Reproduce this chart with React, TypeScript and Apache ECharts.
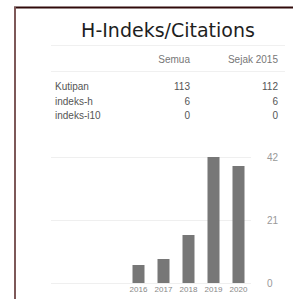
import React, { useEffect, useRef } from "react";
import * as echarts from "echarts";

const titleText = "H-Indeks/Citations";
const tableHeaders = ["Semua", "Sejak 2015"];
const rowLabels = ["Kutipan", "indeks-h", "indeks-i10"];
const allValues = [113, 6, 0];
const since2015Values = [112, 6, 0];

const years = ["2013", "2014", "2015", "2016", "2017", "2018", "2019", "2020"];
const citations = [0, 0, 0, 6, 8, 16, 42, 39];
const yMax = 42;
const yInterval = 21;

export default function App() {
  const ref = useRef<HTMLDivElement>(null);
  useEffect(() => {
    if (!ref.current) return;
    const chart = echarts.init(ref.current, null, { renderer: "svg" });
    const tableFont = "Liberation Sans, Arial, sans-serif";
    const rowYs = [86, 101, 115];
    const graphics: any[] = [
      {
        type: "line",
        shape: { x1: 14, y1: 7.5, x2: 293, y2: 7.5 },
        style: { stroke: "#300a0a", lineWidth: 2 },
        silent: true,
      },
      {
        type: "line",
        shape: { x1: 15, y1: 7, x2: 15, y2: 299 },
        style: { stroke: "#7d5858", lineWidth: 2 },
        silent: true,
      },
      {
        type: "text",
        x: 168,
        y: 30,
        style: {
          text: titleText,
          font: "19px 'DejaVu Sans', sans-serif",
          fill: "#1e1e1e",
          textAlign: "center",
          textVerticalAlign: "middle",
        },
      },
      {
        type: "line",
        shape: { x1: 51, y1: 45.5, x2: 285, y2: 45.5 },
        style: { stroke: "#f0f0f0", lineWidth: 1 },
      },
      {
        type: "line",
        shape: { x1: 51, y1: 71.5, x2: 285, y2: 71.5 },
        style: { stroke: "#f0f0f0", lineWidth: 1 },
      },
      {
        type: "text",
        x: 190,
        y: 59,
        style: {
          text: tableHeaders[0],
          font: "10px " + tableFont,
          fill: "#777",
          textAlign: "right",
          textVerticalAlign: "middle",
        },
      },
      {
        type: "text",
        x: 278,
        y: 59,
        style: {
          text: tableHeaders[1],
          font: "10px " + tableFont,
          fill: "#777",
          textAlign: "right",
          textVerticalAlign: "middle",
        },
      },
    ];
    rowLabels.forEach((lab, i) => {
      graphics.push({
        type: "text",
        x: 55,
        y: rowYs[i],
        style: {
          text: lab,
          font: "10px " + tableFont,
          fill: "#555",
          textAlign: "left",
          textVerticalAlign: "middle",
        },
      });
      graphics.push({
        type: "text",
        x: 190,
        y: rowYs[i],
        style: {
          text: String(allValues[i]),
          font: "10px " + tableFont,
          fill: "#555",
          textAlign: "right",
          textVerticalAlign: "middle",
        },
      });
      graphics.push({
        type: "text",
        x: 278,
        y: rowYs[i],
        style: {
          text: String(since2015Values[i]),
          font: "10px " + tableFont,
          fill: "#555",
          textAlign: "right",
          textVerticalAlign: "middle",
        },
      });
    });

    chart.setOption({
      animation: false,
      backgroundColor: "#ffffff",
      grid: { left: 51, top: 157, width: 200, height: 126 },
      xAxis: {
        type: "category",
        data: years,
        axisLine: { show: false },
        axisTick: { show: false },
        axisLabel: {
          margin: 2,
          fontSize: 8,
          color: "#888",
          fontFamily: tableFont,
          interval: 0,
          formatter: (v: string, i: number) => (citations[i] > 0 ? v : ""),
        },
      },
      yAxis: {
        type: "value",
        position: "right",
        min: 0,
        max: yMax,
        interval: yInterval,
        axisLine: { show: false },
        axisTick: { show: false },
        splitLine: { lineStyle: { color: "#efefef", width: 1 } },
        axisLabel: {
          margin: 16,
          fontSize: 10,
          color: "#999",
          fontFamily: tableFont,
        },
      },
      series: [
        {
          type: "bar",
          data: citations,
          barWidth: 12,
          itemStyle: { color: "#777777" },
          silent: true,
        },
      ],
      graphic: graphics,
    });
    return () => chart.dispose();
  }, []);
  return (
    <div
      ref={ref}
      style={{ position: "fixed", left: 0, top: 0, width: 303, height: 299 }}
    />
  );
}
